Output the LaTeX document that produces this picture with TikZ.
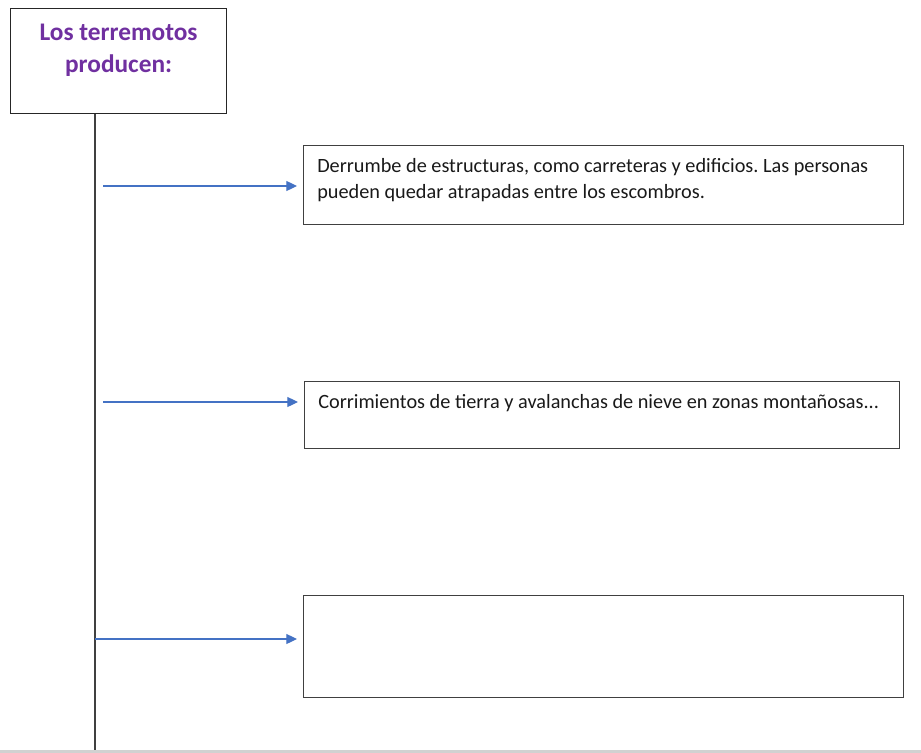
\documentclass[tikz,border=0pt]{standalone}
\usepackage{fontspec}
\setmainfont{Carlito}
\usetikzlibrary{positioning}
\usetikzlibrary{arrows.meta}
\usepackage{xcolor}
\definecolor{titlepurple}{RGB}{112,48,160}
\definecolor{arrowblue}{RGB}{68,114,196}
\definecolor{edgegray}{RGB}{64,64,64}
\frenchspacing

\tikzset{
  titlebox/.style={draw=black!85, line width=0.9pt, anchor=north west, inner sep=0pt,
    minimum width=162pt, minimum height=78.75pt},
  titletext/.style={text=titlepurple, font=\fontsize{19}{24.5}\selectfont\bfseries,
    align=center, inner sep=0pt},
  causebox/.style={draw=edgegray, line width=0.9pt, anchor=north west, inner sep=0pt,
    minimum width=450pt},
  causetext/.style={text=black!90, font=\fontsize{15.2}{19.5}\selectfont,
    align=left, inner sep=0pt},
  effectarrow/.style={draw=arrowblue, line width=0.9pt,
    -{Triangle[length=8pt, width=7.5pt]}, shorten >=4.5pt},
}

\begin{document}
\begin{tikzpicture}[x=0.75pt,y=0.75pt,yscale=-1,xscale=1]
\useasboundingbox (0,0) rectangle (921,753);

% title
\node[titlebox, label={[titletext, anchor=north, yshift=-11.5pt]north:{Los terremotos\\producen:}}] (title) at (10,8) {};

% spine
\coordinate (spine) at (95,750);
\draw[edgegray, line width=1.1pt] (spine |- title.south) -- (spine);

% effect boxes
\node[causebox, minimum height=59.25pt] (c1) at (303,145) {};
\node[causetext, below right=10pt and 10.5pt of c1.north west] (t1) {Derrumbe de estructuras, como carreteras y edificios. Las personas\\pueden quedar atrapadas entre los escombros.};

\node[causebox, minimum width=446.25pt, minimum height=50.25pt] (c2) at (304,381) {};
\node[causetext, below right=9.5pt and 10.5pt of c2.north west] (t2) {Corrimientos de tierra y avalanchas de nieve en zonas monta\~nosas...};

\node[causebox, minimum height=76.5pt] (c3) at (303,595) {};

% arrows
\coordinate (s1) at (103,186);
\coordinate (s2) at (103,402);
\coordinate (s3) at (95,639);
\draw[effectarrow] (s1) -- (s1 -| c1.west);
\draw[effectarrow] (s2) -- (s2 -| c2.west);
\draw[effectarrow] (s3) -- (s3 -| c3.west);

% page edge
\fill[black!18] (0,750) rectangle (921,753);
\end{tikzpicture}
\end{document}
